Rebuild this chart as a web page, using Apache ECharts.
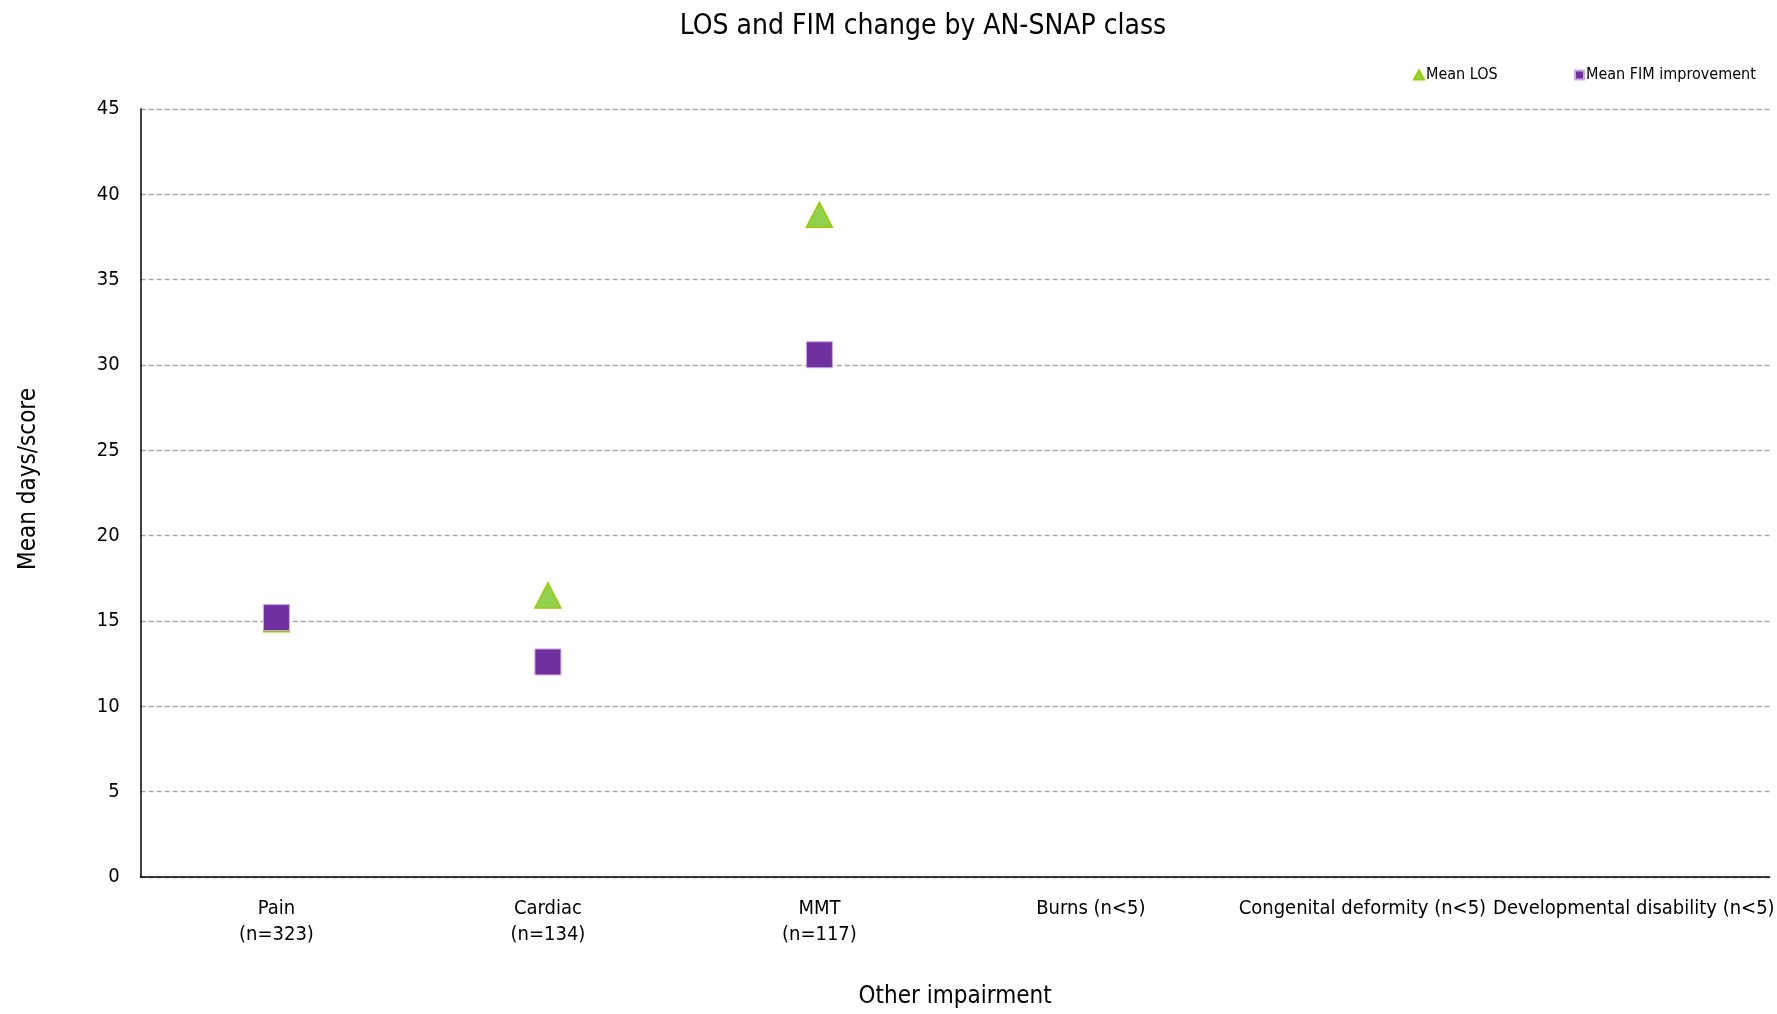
<!DOCTYPE html>
<html>
<head>
<meta charset="utf-8">
<script src="https://cdn.jsdelivr.net/npm/echarts@6/dist/echarts.min.js"></script>
<style>
html,body{margin:0;padding:0;background:#fff;overflow:hidden;width:100%;height:100%;}
#chart{width:100vw;height:100vh;}
</style>
</head>
<body>
<div id="chart"></div>
<script>
const categories = ['Pain\n(n=323)', 'Cardiac\n(n=134)', 'MMT\n(n=117)', 'Burns (n<5)', 'Congenital deformity (n<5)', 'Developmental disability (n<5)'];
const meanLOS = [15.1, 16.5, 38.8, null, null, null];
const meanFIM = [15.2, 12.6, 30.6, null, null, null];
const yTicks = [0, 5, 10, 15, 20, 25, 30, 35, 40, 45];

const FONT = "'Liberation Sans Narrow', 'Arial Narrow', 'DejaVu Sans Condensed', sans-serif";
const chart = echarts.init(document.getElementById('chart'), null, {renderer: 'canvas'});
chart.setOption({
  animation: false,
  backgroundColor: '#ffffff',
  title: {
    text: 'LOS and FIM change by AN-SNAP class',
    left: 918, top: 8, textAlign: 'center',
    textStyle: {fontFamily: FONT, fontSize: 28, fontWeight: 'normal', color: '#000'}
  },
  legend: [
    {data: [{name: 'Mean LOS', icon: 'triangle'}], left: 1408, top: 62, itemWidth: 10, itemHeight: 9, itemGap: 4,
     textStyle: {fontFamily: FONT, fontSize: 16, color: '#000', padding: [0, 0, 0, -3]}},
    {data: [{name: 'Mean FIM improvement', icon: 'rect'}], left: 1569, top: 62, itemWidth: 9, itemHeight: 9,
     textStyle: {fontFamily: FONT, fontSize: 16, color: '#000', padding: [0, 0, 0, -3]}}
  ],
  grid: {left: 140.7, right: 0, top: 109, bottom: 132.3, containLabel: false},
  xAxis: {
    type: 'category',
    data: categories,
    boundaryGap: true,
    name: 'Other impairment',
    nameLocation: 'middle',
    nameGap: 108,
    nameTextStyle: {fontFamily: FONT, fontSize: 24, color: '#000'},
    axisLine: {lineStyle: {color: '#000', width: 1.5}},
    axisTick: {show: false},
    axisLabel: {fontFamily: FONT, fontSize: 20, color: '#000', margin: 19, lineHeight: 26, interval: 0}
  },
  yAxis: {
    type: 'value',
    min: yTicks[0], max: yTicks[yTicks.length - 1], interval: 5,
    axisLine: {show: true, lineStyle: {color: '#000', width: 1.5}},
    axisTick: {show: false},
    axisLabel: {fontFamily: FONT, fontSize: 20, color: '#000', margin: 21},
    splitLine: {show: true, lineStyle: {color: '#A6A6A6', width: 1.3, type: [5, 3]}}
  },
  graphic: [{
    type: 'text', left: 17, top: 388,
    rotation: Math.PI / 2,
    style: {text: 'Mean days/score', font: "24px " + FONT, fill: '#000'},
    originX: 0, originY: 0
  }],
  series: [
    {
      name: 'Mean LOS', type: 'scatter', data: meanLOS,
      symbol: 'triangle', symbolSize: [26, 25],
      itemStyle: {color: '#92D050', borderColor: '#99CC00', borderWidth: 1.5, opacity: 1}
    },
    {
      name: 'Mean FIM improvement', type: 'scatter', data: meanFIM,
      symbol: 'rect', symbolSize: 26,
      itemStyle: {color: '#7030A0', borderColor: '#D0A8E8', borderWidth: 1, opacity: 1}
    }
  ]
});
</script>
</body>
</html>
